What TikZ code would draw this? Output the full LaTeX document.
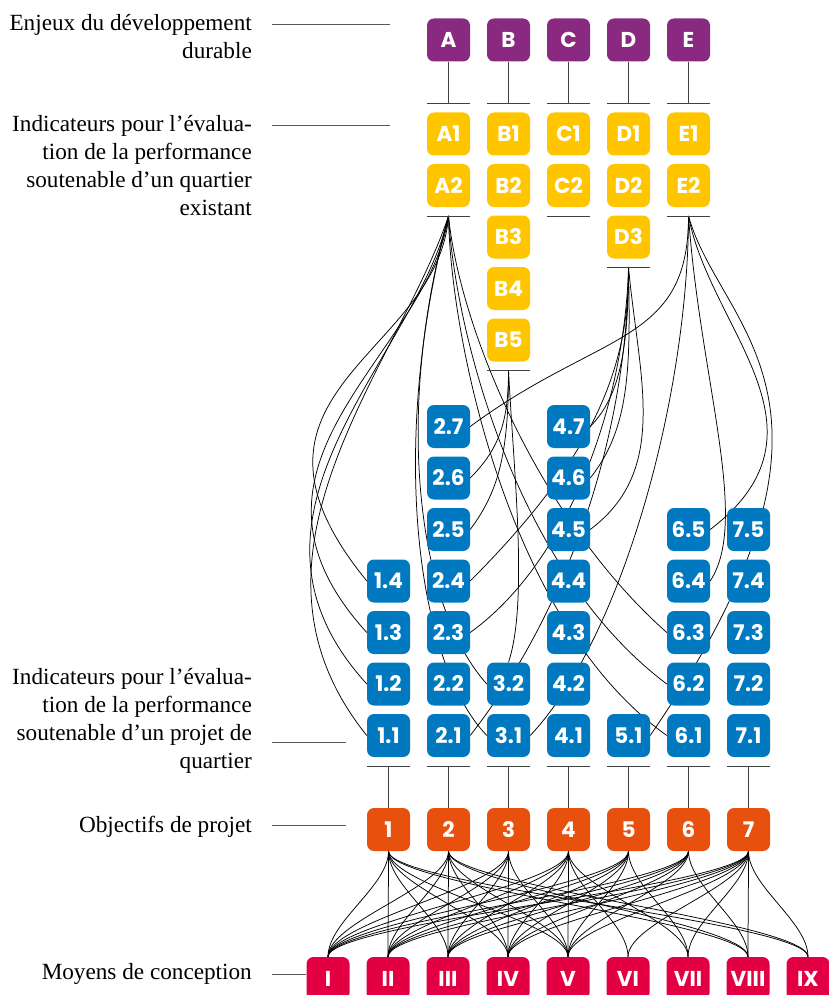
\documentclass[tikz,border=0pt]{standalone}
\usepackage{fontspec}
\newfontfamily\boxfont{Poppins}
\newfontfamily\labfont{Liberation Serif}
\definecolor{enjeu}{RGB}{137,41,128}
\definecolor{indic}{RGB}{255,198,0}
\definecolor{projet}{RGB}{0,121,193}
\definecolor{objectif}{RGB}{232,80,14}
\definecolor{moyen}{RGB}{226,0,66}
\pgfdeclarelayer{bg}
\pgfsetlayers{bg,main}
\tikzset{
  box/.style={rounded corners=7pt, minimum width=43pt, minimum height=43pt,
    inner sep=0pt, text=white, font=\boxfont\bfseries\fontsize{21.5}{21.5}\selectfont},
  pbox/.style={box, fill=enjeu},
  ybox/.style={box, fill=indic},
  bbox/.style={box, fill=projet},
  obox/.style={box, fill=objectif},
  rbox/.style={box, fill=moyen},
  stem/.style={draw=black!75, line width=1pt},
  link/.style={draw=black, line width=0.75pt},
  guide/.style={draw=black!65, line width=0.9pt},
  lab/.style={anchor=base east, align=right, inner sep=0pt,
    font=\labfont\fontsize{23.2}{27.7}\selectfont, text=black}
}
\begin{document}
\begin{tikzpicture}[x=1pt,y=-1pt]
\useasboundingbox (0,0) rectangle (828,995);

% ---- level labels (anchored on the baseline of their last line) and guide lines
\node[lab] (t1) at (252,58.7) {Enjeux du développement\\durable};
\node[lab] (t2) at (252,215) {Indicateurs pour l’évalua-\\tion de la performance\\soutenable d’un quartier\\existant};
\node[lab] (t3) at (252,768) {Indicateurs pour l’évalua-\\tion de la performance\\soutenable d’un projet de\\quartier};
\node[lab] (t4) at (252,832) {Objectifs de projet};
\node[lab] (t5) at (252,979) {Moyens de conception};

% ---- sustainable development issues
\foreach \n/\x in {A/448.5,B/508.5,C/568.5,D/628.5,E/688.5}
  \node[pbox] (p\n) at (\x,40) {\n};

% ---- indicators of an existing district
\foreach \n/\x in {A/448.5,B/508.5,C/568.5,D/628.5,E/688.5}
  \node[ybox] (y\n1) at (\x,134) {\n1};
\foreach \n/\x in {A/448.5,B/508.5,C/568.5,D/628.5,E/688.5}
  \node[ybox] (y\n2) at (\x,185.5) {\n2};
\node[ybox] (yB3) at (508.5,237) {B3};
\node[ybox] (yB4) at (508.5,288.5) {B4};
\node[ybox] (yB5) at (508.5,340) {B5};
\node[ybox] (yD3) at (628.5,237) {D3};

% ---- indicators of a district project
\foreach \k/\x/\m in {1/388.5/4,2/448.5/7,3/508.5/2,4/568.5/7,5/628.5/1,6/688.5/5,7/748.5/5}
  \foreach \j in {1,...,\m}
    \node[bbox] (b\k\j) at (\x,{735.5-51.5*(\j-1)}) {\k.\j};

% ---- project objectives
\foreach \k/\x in {1/388.5,2/448.5,3/508.5,4/568.5,5/628.5,6/688.5,7/748.5}
  \node[obox] (o\k) at (\x,829.5) {\k};

% ---- design means
\foreach \k/\r/\x in {1/I/328,2/II/388,3/III/448,4/IV/508,5/V/568,6/VI/628,7/VII/688,8/VIII/748,9/IX/808}
  \node[rbox] (r\k) at (\x,978.5) {\r};

% ---- guide lines
\coordinate (g1a) at (272,24);  \coordinate (g1b) at (390,24);
\coordinate (g2a) at (272,125); \coordinate (g2b) at (390,125);
\coordinate (g3a) at (272,742); \coordinate (g3b) at (346,742);
\coordinate (g4a) at (272,825.5); \coordinate (g4b) at (346,825.5);
\coordinate (g5a) at (272,974);
\draw[guide] (g1a) -- (g1b);
\draw[guide] (g2a) -- (g2b);
\draw[guide] (g3a) -- (g3b);
\draw[guide] (g4a) -- (g4b);
\draw[guide] (g5a) -- (g5a -| r1.west);

% ---- stems and bars
\foreach \n in {A,B,C,D,E} {
  \coordinate (s\n) at (p\n.south |- 0,104);
  \draw[stem] (p\n.south) -- (s\n);
  \draw[stem] (s\n -| y\n1.west) -- (s\n -| y\n1.east);
}
\coordinate (a2) at (yA2.south |- 0,216);
\coordinate (c2) at (yC2.south |- 0,216);
\coordinate (e2) at (yE2.south |- 0,216);
\coordinate (d3) at (yD3.south |- 0,267);
\coordinate (b5) at (yB5.south |- 0,370);
\foreach \c/\n in {a2/yA2,c2/yC2,e2/yE2,d3/yD3,b5/yB5}
  \draw[stem] (\c -| \n.west) -- (\c -| \n.east);
\foreach \k in {1,...,7} {
  \coordinate (m\k) at (b\k1.south |- 0,766);
  \draw[stem] (m\k -| b\k1.west) -- (m\k -| b\k1.east);
  \draw[stem] (m\k) -- (o\k.north);
}

\begin{pgfonlayer}{bg}
% links from A2
\draw[link] (a2) .. controls +(-10,140) and +(-155,-190) .. (b14.west);
\draw[link] (a2) .. controls +(-20,140) and +(-155,-170) .. (b13.west);
\draw[link] (a2) .. controls +(-30,140) and +(-155,-170) .. (b12.west);
\draw[link] (a2) .. controls +(-50,150) and +(-145,-180) .. (b11.west);
\draw[link] (a2) .. controls +(-56.5,204) and +(-67,-74) .. (b32.west);
\draw[link] (a2) .. controls +(-59.5,224) and +(-72,-75) .. (b31.west);
\draw[link] (a2) .. controls +(11.5,114) and +(-127,-112.5) .. (b63.west);
\draw[link] (a2) .. controls +(6.5,114) and +(-152,-114) .. (b62.west);
\draw[link] (a2) .. controls +(1.5,114) and +(-162,-115.5) .. (b61.west);
% links from B5
\draw[link] (b5) .. controls +(0,50) and +(30,-30) .. (b26.east);
\draw[link] (b5) .. controls +(0,80) and +(30,-40) .. (b25.east);
\draw[link] (b5) .. controls +(5,100) and +(20,-60) .. (b32.north);
% links from D3
\draw[link] (d3) .. controls +(0,80) and +(30,-30) .. (b47.east);
\draw[link] (d3) .. controls +(2,100) and +(40,-50) .. (b46.east);
\draw[link] (d3) .. controls +(1.5,113) and +(110.5,-111) .. (b24.east);
\draw[link] (d3) .. controls +(10,110) and +(80,-60) .. (b45.east);
\draw[link] (d3) .. controls +(-3.5,133) and +(100.5,-72.5) .. (b23.east);
\draw[link] (d3) .. controls +(-0.5,153) and +(105.5,-135.5) .. (b21.east);
% links from E2
\draw[link] (e2) .. controls +(0,129) and +(130.5,-96.5) .. (b27.east);
\draw[link] (e2) .. controls +(-0.5,184) and +(90.5,-95.5) .. (b31.east);
\draw[link] (e2) .. controls +(11.5,164) and +(40,-61) .. (b64.east);
\draw[link] (e2) .. controls +(21.5,114) and +(130,-99.5) .. (b65.east);
\draw[link] (e2) .. controls +(31.5,114) and +(230,-335.5) .. (b51.east);

% objectives to design means
\foreach \s/\t in {1/1,1/2,1/3,1/4,1/5,1/8,1/9,
                   2/1,2/2,2/3,2/4,2/5,2/8,2/9,
                   3/1,3/2,3/3,3/4,3/5,
                   4/1,4/2,4/3,4/4,4/5,4/6,4/7,
                   5/1,5/2,5/3,5/4,5/5,5/7,
                   6/1,6/2,6/3,6/4,6/5,6/8,
                   7/1,7/2,7/3,7/4,7/5,7/6,7/7,7/8,7/9}
  \draw[link] (o\s.south) .. controls +(0,35) and +(0,-35) .. (r\t.north);
\end{pgfonlayer}
\end{tikzpicture}
\end{document}
